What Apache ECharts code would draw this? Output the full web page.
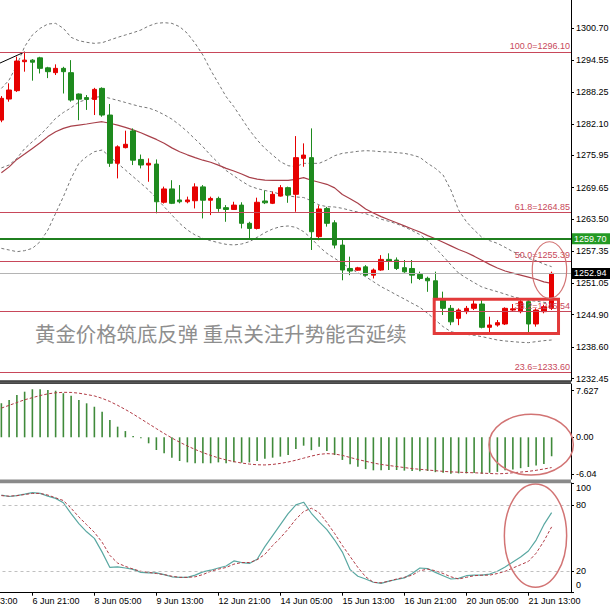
<!DOCTYPE html>
<html><head><meta charset="utf-8">
<script src="https://cdn.jsdelivr.net/npm/echarts@6/dist/echarts.min.js"></script>
<style>html,body{margin:0;padding:0;background:#fff}#c{width:610px;height:611px}</style>
</head><body><div id="c"></div>
<script>
// ---------- data (H4 XAUUSD) ----------
const tickLabels = ['5 Jun 13:00','6 Jun 21:00','8 Jun 05:00','9 Jun 13:00','12 Jun 21:00','14 Jun 05:00','15 Jun 13:00','16 Jun 21:00','20 Jun 05:00','21 Jun 13:00'];
const opens = [1282.82,1286.92,1288.55,1294.20,1294.50,1294.95,1293.00,1292.06,1292.90,1292.06,1287.90,1287.20,1286.85,1289.00,1283.80,1274.40,1277.45,1280.70,1275.15,1274.06,1274.25,1266.80,1269.40,1267.25,1266.90,1267.10,1269.80,1267.20,1267.55,1265.75,1265.40,1266.25,1262.70,1261.70,1267.05,1266.60,1268.00,1269.65,1268.35,1275.36,1275.50,1260.10,1265.60,1262.80,1258.45,1253.90,1253.57,1254.22,1252.60,1253.60,1255.67,1255.55,1254.05,1253.90,1252.75,1251.98,1251.50,1247.75,1246.13,1244.18,1245.48,1246.13,1246.97,1242.43,1242.88,1243.08,1245.80,1245.48,1247.43,1243.08,1245.48,1246.13];
const closes = [1287.06,1288.68,1294.33,1294.50,1294.10,1292.90,1292.25,1292.90,1292.25,1286.72,1286.90,1286.85,1288.80,1283.80,1274.40,1277.60,1278.10,1275.00,1274.06,1274.40,1266.90,1269.40,1266.60,1266.90,1267.25,1269.80,1267.20,1267.55,1265.60,1265.40,1266.25,1262.70,1261.70,1266.80,1266.70,1268.35,1269.65,1268.20,1275.50,1276.00,1261.06,1265.50,1262.70,1258.45,1253.60,1253.40,1254.02,1252.60,1253.60,1255.67,1255.30,1253.90,1253.25,1252.60,1251.95,1251.50,1248.08,1246.13,1243.50,1245.80,1246.13,1246.97,1242.43,1242.88,1243.34,1246.13,1246.03,1247.43,1243.08,1245.80,1246.45,1252.94];
const lows = [1282.40,1286.40,1288.30,1292.25,1290.50,1291.90,1291.00,1291.60,1288.00,1286.40,1282.80,1284.80,1283.80,1283.47,1273.70,1271.45,1277.30,1274.05,1273.40,1270.80,1264.65,1266.55,1266.45,1266.60,1266.60,1265.60,1263.65,1264.30,1264.95,1263.00,1265.30,1261.70,1259.75,1261.50,1266.45,1266.45,1267.90,1266.70,1264.95,1273.73,1257.50,1259.40,1262.05,1257.80,1251.60,1252.60,1253.45,1252.40,1251.95,1253.45,1253.60,1253.60,1253.05,1251.00,1251.65,1249.35,1247.75,1244.83,1242.85,1242.85,1245.00,1245.80,1242.23,1241.26,1242.56,1242.88,1245.48,1245.16,1241.26,1242.56,1245.16,1245.80];
const highs = [1287.50,1289.98,1295.18,1296.10,1294.70,1295.15,1293.20,1293.68,1293.20,1294.50,1288.00,1287.70,1289.10,1289.20,1285.95,1277.90,1280.75,1281.20,1276.10,1275.35,1275.15,1269.85,1271.10,1270.15,1267.90,1270.50,1270.15,1267.90,1267.90,1266.25,1266.90,1266.80,1263.00,1267.70,1269.10,1268.90,1270.15,1269.85,1279.70,1278.28,1281.20,1266.20,1265.90,1263.30,1259.75,1256.20,1254.22,1254.55,1253.90,1256.50,1256.85,1256.05,1255.55,1255.55,1253.28,1252.30,1253.28,1249.38,1246.78,1246.13,1246.60,1247.75,1247.75,1244.50,1243.86,1246.33,1246.97,1248.08,1247.75,1246.13,1246.78,1253.28];
const bbUpper = [1288.99,1290.63,1293.55,1297.13,1299.40,1300.70,1301.54,1301.67,1300.70,1298.94,1298.29,1297.97,1297.77,1297.90,1298.42,1298.94,1299.40,1299.85,1300.37,1301.15,1301.67,1301.80,1301.67,1301.02,1299.72,1297.77,1295.50,1292.58,1289.98,1287.38,1285.43,1283.16,1280.89,1278.94,1277.31,1276.01,1274.71,1273.93,1273.74,1274.39,1274.39,1274.39,1275.04,1275.88,1276.34,1276.53,1276.73,1276.86,1276.79,1276.66,1276.60,1276.47,1276.34,1276.01,1275.56,1274.39,1273.41,1272.11,1269.19,1265.29,1263.02,1261.40,1259.97,1259.32,1258.80,1258.02,1257.18,1256.53,1255.88,1255.42,1254.77,1254.25];
const bbMiddle = [1273.5,1274.07,1275.36,1277.25,1278.61,1279.91,1281.47,1283.16,1284.30,1285.21,1286.34,1286.83,1287.22,1287.45,1287.06,1286.67,1286.25,1285.82,1285.43,1285.17,1284.62,1283.87,1283.0,1281.86,1280.56,1279.1,1277.64,1275.95,1274.46,1272.99,1271.96,1270.92,1270.0,1269.46,1269.1,1268.8,1268.38,1268.06,1267.83,1267.73,1267.08,1266.27,1265.95,1265.88,1265.62,1265.23,1264.9,1264.58,1264.06,1263.5,1263.09,1262.6,1262.0,1261.3,1260.5,1259.3,1257.9,1256.3,1254.6,1253.0,1252.04,1251.14,1250.29,1249.81,1249.38,1248.9,1248.41,1248.02,1247.66,1247.53,1247.3,1247.1];
const bbLower = [1257.82,1257.50,1257.17,1257.37,1257.82,1259.12,1261.40,1264.65,1267.89,1271.47,1274.39,1275.69,1276.66,1276.99,1275.69,1274.39,1273.09,1271.79,1270.49,1269.19,1267.57,1265.94,1264.32,1262.70,1261.40,1260.42,1259.77,1259.32,1258.93,1258.60,1258.48,1258.67,1259.12,1259.97,1260.88,1261.59,1262.05,1262.18,1261.92,1261.07,1259.77,1258.15,1256.85,1255.88,1254.90,1253.93,1253.08,1252.30,1251.33,1250.35,1249.57,1248.73,1247.95,1247.11,1246.33,1245.16,1243.86,1242.56,1241.58,1241.26,1241.06,1240.87,1240.61,1240.29,1239.96,1239.77,1239.64,1239.51,1239.44,1239.64,1239.83,1239.96];
const maLine = [1272.55,1273.70,1275.15,1276.20,1277.30,1278.40,1279.60,1280.55,1281.20,1281.65,1281.85,1282.05,1282.30,1282.50,1282.20,1281.85,1281.40,1280.90,1280.35,1279.70,1279.05,1278.30,1277.40,1276.65,1276.05,1275.50,1275.00,1274.60,1274.05,1273.40,1272.90,1272.30,1271.65,1271.30,1271.10,1271.05,1271.05,1271.05,1271.25,1271.60,1271.10,1270.70,1270.30,1269.60,1268.30,1267.50,1266.60,1265.50,1264.70,1264.00,1263.40,1262.80,1262.20,1261.60,1261.00,1260.30,1259.70,1259.00,1258.30,1257.60,1257.00,1256.30,1255.50,1254.70,1254.00,1253.40,1253.00,1252.60,1252.20,1251.80,1251.30,1251.00];
const macdMain = [5.56,6.11,6.93,7.46,7.85,7.85,7.74,7.62,7.20,6.81,6.11,5.56,5.00,4.19,2.83,1.74,1.02,0.23,-0.17,-0.98,-2.08,-2.62,-3.33,-3.88,-4.10,-4.25,-4.25,-4.25,-4.10,-4.25,-4.10,-4.15,-4.10,-3.88,-3.49,-3.33,-3.16,-2.89,-1.91,-1.37,-2.10,-1.54,-2.22,-2.90,-3.70,-4.40,-4.80,-5.20,-5.40,-5.40,-5.35,-5.35,-5.45,-5.50,-5.55,-5.50,-5.70,-5.80,-5.95,-5.90,-5.90,-5.85,-5.95,-5.80,-5.65,-5.40,-5.25,-5.05,-4.85,-4.60,-4.35,-3.10];
const macdSignal = [4.78,5.23,5.69,6.14,6.48,6.83,7.11,7.28,7.36,7.34,7.22,7.00,6.77,6.37,5.86,5.23,4.55,3.81,3.01,2.22,1.42,0.63,-0.11,-0.80,-1.42,-1.99,-2.50,-2.96,-3.36,-3.70,-3.98,-4.21,-4.38,-4.49,-4.52,-4.44,-4.27,-4.04,-3.75,-3.41,-3.07,-2.79,-2.67,-2.73,-2.96,-3.30,-3.64,-3.92,-4.21,-4.44,-4.61,-4.78,-4.95,-5.12,-5.23,-5.35,-5.46,-5.57,-5.65,-5.71,-5.76,-5.80,-5.86,-5.92,-5.97,-5.92,-5.80,-5.69,-5.57,-5.40,-5.18,-4.95];
const stochK = [89,87.7,88.5,89.8,91.2,90.5,88,86,82,72,63,55.5,49.5,37,23,23.5,22.5,21.3,18.5,18,18,16.5,14.5,14,14,16,19,20.5,22.5,24.3,29,27.5,26.7,30.5,42,52,62,72,80,82.5,72.4,64.5,57.5,48,37,21,15,12.5,9.5,8.5,10.5,12,13.5,17.5,22.5,22,18.5,15.5,12.5,13,15.5,16,16,17,19.5,23.5,28,32.5,38,48,62,73];
const stochD = [88.5,88,88.5,89.5,90.5,90.5,89,86.5,84,77,69,62,55,46,34,27,24,21.5,19.5,18.5,17.5,16.5,15,14,14,14.5,16.5,19.5,21.5,23,26,27.5,27.5,30,35,43,50,58,67,74,77,73,64,54,43,33,23,14.5,9.5,9,10.5,12.5,14,16,20,21.5,20,17.5,14.5,12.5,14,15.5,16,16,17.5,19.5,22.5,25.5,28.5,36,47,60];
const priceTicks = [1232.45,1238.60,1244.90,1251.05,1257.35,1263.50,1269.65,1275.95,1282.10,1288.25,1294.55,1300.70];
const macdTickValues = [-6.04, 0, 7.627];
const macdTickText = ['-6.04', '0.00', '7.627'];
const stochTicks = [0, 20, 80, 100];
const stochTickText = ['0', '20', '80', '100'];
const stochLevels = [80, 20];
const fibLevels = [100.0, 61.8, 50.0, 38.2, 23.6];
const fibPrices = [1296.10, 1264.85, 1255.39, 1245.54, 1233.60];
const fibDiag = [[-1, 1293.37], [3, 1296.10]];
const supportLevel = 1259.70;
const titleText = '黄金价格筑底反弹 重点关注升势能否延续';

// ---------- layout ----------
const PAD_L = 4, PAD_R = 2;
const N = PAD_L + opens.length + PAD_R;
const cats = Array.from({length: N}, (_, i) => (i % 8 === 0 ? tickLabels[i / 8] : 'c' + i));
const pad = arr => [...Array(PAD_L).fill('-'), ...arr, ...Array(PAD_R).fill('-')];
const candleData = [...Array(PAD_L).fill(['-','-','-','-']), ...opens.map((o, i) => [o, closes[i], lows[i], highs[i]]), ...Array(PAD_R).fill(['-','-','-','-'])];
const bidPrice = closes[closes.length - 1];

const AXF = '"Liberation Sans", Arial, sans-serif';
const GL = -33.5, GR = 39;
const UP = '#e60000', DOWN = '#1e8a1e';
const FIB = '#c8485a';
const DASHGRAY = '#777777';

const chart = echarts.init(document.getElementById('c'), null, {renderer: 'svg'});

const lineS = (name, data, color, type, width, xi, z) => ({
  name, type: 'line', data: pad(data), xAxisIndex: xi, yAxisIndex: xi, symbol: 'none',
  lineStyle: {color, width: width, type}, z: z, silent: true, animation: false
});

const option = {
  animation: false,
  backgroundColor: '#ffffff',
  grid: [
    {left: GL, right: GR, top: 0, height: 381, outerBoundsMode: 'none'},
    {left: GL, right: GR, top: 384, height: 95, outerBoundsMode: 'none'},
    {left: GL, right: GR, top: 483, height: 109.7, outerBoundsMode: 'none'}
  ],
  xAxis: [0, 1, 2].map(g => ({
    type: 'category', gridIndex: g, data: cats, boundaryGap: true,
    axisLine: {show: g === 2, onZero: false, lineStyle: {color: '#000', width: 1}},
    axisTick: {show: g === 2, alignWithLabel: true, interval: (i) => i % 8 === 0, length: 3, lineStyle: {color: '#000'}},
    axisLabel: {show: g === 2, interval: (i) => i % 8 === 0, formatter: (v, i) => (i % 8 === 0 ? tickLabels[i / 8] : ''),
      align: 'left', margin: 4, color: '#000', fontSize: 9, fontFamily: AXF, showMinLabel: true, hideOverlap: false},
    splitLine: {show: false}
  })),
  yAxis: [
    {type: 'value', gridIndex: 0, position: 'right', min: 1231.97, max: 1306.22,
      axisLine: {show: true, onZero: false, lineStyle: {color: '#000', width: 1}},
      axisTick: {show: true, length: 3, customValues: priceTicks, lineStyle: {color: '#000'}},
      axisLabel: {customValues: priceTicks, formatter: v => v.toFixed(2), color: '#000', fontSize: 9, margin: 5, fontFamily: AXF},
      splitLine: {show: false}},
    {type: 'value', gridIndex: 1, position: 'right', min: -6.82, max: 8.72,
      axisLine: {show: true, onZero: false, lineStyle: {color: '#000', width: 1}},
      axisTick: {show: true, length: 3, customValues: macdTickValues, lineStyle: {color: '#000'}},
      axisLabel: {customValues: macdTickValues, formatter: v => macdTickText[macdTickValues.indexOf(v)] ?? String(v), color: '#000', fontSize: 9, margin: 5, fontFamily: AXF},
      splitLine: {show: false}},
    {type: 'value', gridIndex: 2, position: 'right', min: 0, max: 100,
      axisLine: {show: true, onZero: false, lineStyle: {color: '#000', width: 1}},
      axisTick: {show: true, length: 3, customValues: stochTicks, lineStyle: {color: '#000'}},
      axisLabel: {customValues: stochTicks.slice(1), formatter: v => stochTickText[stochTicks.indexOf(v)], color: '#000', fontSize: 9, margin: 5, fontFamily: AXF,
        showMaxLabel: true, verticalAlignMaxLabel: 'top'},
      splitLine: {show: false}}
  ],
  series: [
    {
      name: 'levels', type: 'line', data: pad(opens.map(() => '-')), xAxisIndex: 0, yAxisIndex: 0, symbol: 'none', z: 1, silent: true,
      markLine: {
        symbol: ['none', 'none'], silent: true, animation: false,
        data: [
          ...fibLevels.map((lv, k) => ({
            yAxis: fibPrices[k],
            lineStyle: {color: FIB, width: 1, type: 'solid'},
            label: {show: true, position: 'insideEndTop', formatter: lv.toFixed(1) + '=' + fibPrices[k].toFixed(2), color: FIB, fontSize: 9, distance: 1, fontFamily: AXF}
          })),
          {yAxis: supportLevel, lineStyle: {color: '#1f7f1f', width: 2, type: 'solid'},
            label: {show: true, position: 'end', formatter: supportLevel.toFixed(2), backgroundColor: '#249a24', color: '#fff', padding: [1, 4, 1, 2], distance: 1, fontSize: 9, fontFamily: AXF}},
          {yAxis: bidPrice, lineStyle: {color: '#b4b4b4', width: 1, type: 'solid'},
            label: {show: true, position: 'end', formatter: bidPrice.toFixed(2), backgroundColor: '#000', color: '#fff', padding: [1, 4, 1, 2], distance: 1, fontSize: 9, fontFamily: AXF}}
        ]
      }
    },
    lineS('BB upper', bbUpper, DASHGRAY, [3, 2.5], 1, 0, 2),
    lineS('BB middle', bbMiddle, DASHGRAY, [3, 2.5], 1, 0, 2),
    lineS('BB lower', bbLower, DASHGRAY, [3, 2.5], 1, 0, 2),
    lineS('MA', maLine, '#a8404a', 'solid', 1.2, 0, 2),
    {
      name: 'fibDiag', type: 'line', xAxisIndex: 0, yAxisIndex: 0, symbol: 'none', z: 2, silent: true,
      data: fibDiag.map(p => [p[0] + PAD_L, p[1]]),
      lineStyle: {color: '#000', width: 1}
    },
    {
      name: 'XAUUSD', type: 'candlestick', xAxisIndex: 0, yAxisIndex: 0, data: candleData, barWidth: 5, z: 3,
      itemStyle: {color: UP, color0: DOWN, borderColor: UP, borderColor0: DOWN, borderWidth: 1}
    },
    {
      name: 'MACD', type: 'bar', xAxisIndex: 1, yAxisIndex: 1, data: pad(macdMain), barWidth: 1.6,
      itemStyle: {color: '#3f8a3a'}, silent: true, z: 2
    },
    lineS('Signal', macdSignal, '#b03a44', [3, 2], 1, 1, 3),
    Object.assign(lineS('%K', stochK, '#5aa8a2', 'solid', 1.2, 2, 3), {
      markLine: {symbol: ['none', 'none'], silent: true, animation: false, label: {show: false},
        lineStyle: {color: '#c0c0c0', width: 1, type: [3, 3]},
        data: stochLevels.map(v => ({yAxis: v}))}
    }),
    lineS('%D', stochD, '#b03a44', [3, 2], 1, 2, 3)
  ]
};
chart.setOption(option);

// ---------- annotations anchored to data ----------
const annRect = {g: 0, i0: 55.85, i1: 71.89, v0: 1247.91, v1: 1241.22};
const annEllipses = [
  {g: 0, i0: 68.5, i1: 72.94, v0: 1259.11, v1: 1248.08, w: 1.2},
  {g: 1, i0: 62.92, i1: 73.8, v0: 3.76, v1: -6.17, w: 1.5},
  {g: 2, i0: 64.9, i1: 72.94, v0: 99.1, v1: 4.9, w: 1.5}
];
const xA = chart.convertToPixel({gridIndex: 0}, [PAD_L, 1250])[0];
const xB = chart.convertToPixel({gridIndex: 0}, [PAD_L + 1, 1250])[0];
const band = xB - xA;
const X = i => xA + i * band;
const Y = (g, v) => chart.convertToPixel({gridIndex: g}, [PAD_L, v])[1];
const axisX = X(N - PAD_L - 1) + band / 2;   // right edge of the panels (price-scale line)
const zeroY = Y(2, 20) + (Y(2, 20) - Y(2, 40));  // floor of the stochastic panel (value 0)

const graphics = [
  {type: 'rect', silent: true, z: 50, shape: {x: 0, y: 380.5, width: axisX, height: 3}, style: {fill: '#6a6a6a'}},
  {type: 'rect', silent: true, z: 51, shape: {x: 0, y: 380.5, width: axisX, height: 1}, style: {fill: '#222'}},
  {type: 'rect', silent: true, z: 51, shape: {x: 0, y: 382.8, width: axisX, height: 1}, style: {fill: '#222'}},
  {type: 'rect', silent: true, z: 50, shape: {x: 0, y: 479.4, width: axisX, height: 3.9}, style: {fill: '#8a8a8a'}},
  {type: 'text', silent: true, z: 60, style: {text: titleText, x: 35, y: 333, verticalAlign: 'middle', align: 'left',
    fontSize: 20.4, fontFamily: '"Noto Sans CJK SC", sans-serif', fill: '#8e8e8e'}},
  // bottom "0" scale label of the stochastic panel, drawn just above the panel floor
  {type: 'text', silent: true, z: 100, zlevel: 0, x: axisX + 5, y: zeroY - 12,
    style: {text: stochTickText[0], fontSize: 9, fontFamily: AXF, fill: '#000', verticalAlign: 'top', align: 'left'}},
  {type: 'rect', silent: true, z: 40, shape: {x: X(annRect.i0), y: Y(0, annRect.v0), width: X(annRect.i1) - X(annRect.i0), height: Y(0, annRect.v1) - Y(0, annRect.v0)},
    style: {fill: 'none', stroke: '#e23a3a', lineWidth: 3}},
  ...annEllipses.map(e => {
    const x0 = X(e.i0), x1 = X(e.i1), y0 = Y(e.g, e.v0), y1 = Y(e.g, e.v1);
    return {type: 'ellipse', silent: true, z: 45,
      shape: {cx: (x0 + x1) / 2, cy: (y0 + y1) / 2, rx: (x1 - x0) / 2, ry: Math.abs(y1 - y0) / 2},
      style: {fill: 'none', stroke: '#d27474', lineWidth: e.w}};
  })
];
chart.setOption({graphic: graphics});
</script></body></html>
